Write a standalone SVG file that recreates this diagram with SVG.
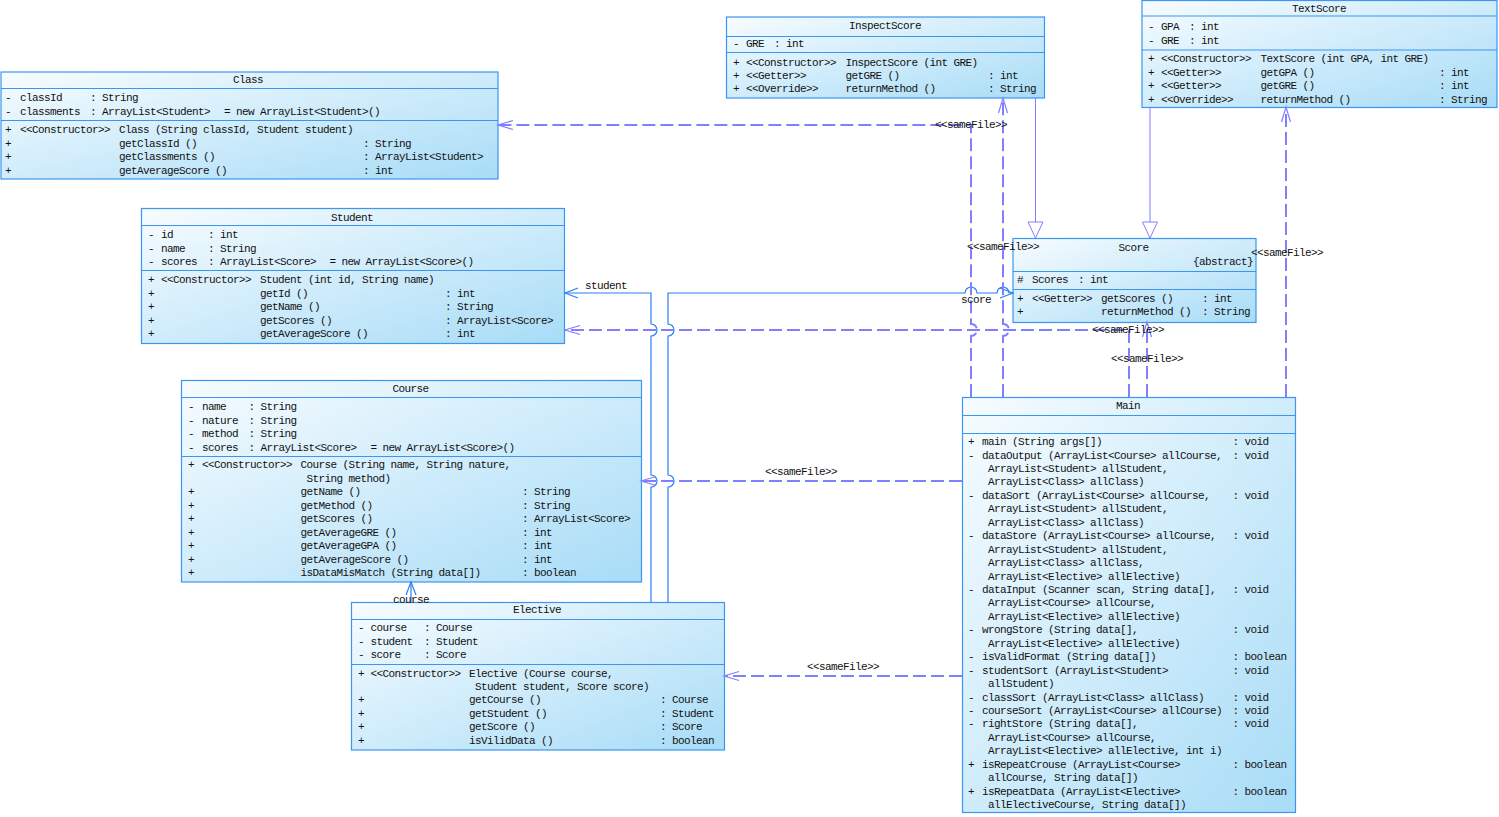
<svg xmlns="http://www.w3.org/2000/svg" width="1499" height="817" viewBox="0 0 1499 817">
<style>
.t{font-family:"Liberation Mono","DejaVu Sans Mono",monospace;font-size:11px;letter-spacing:-0.6px;fill:#111111}
.c{text-anchor:middle}
.box{fill:url(#g);stroke:#3a96f0;stroke-width:1.2}
.dv{stroke:#3a96f0;stroke-width:1.2}
.as{fill:none;stroke:#2a7ff5;stroke-width:1.2}
.dep{fill:none;stroke:#8080ff;stroke-width:2;stroke-dasharray:13 5}
.gen{fill:none;stroke:#8080ff;stroke-width:1}
</style>
<defs>
<linearGradient id="g" x1="0" y1="0" x2="1" y2="1">
<stop offset="0" stop-color="#f7fcff"/>
<stop offset="1" stop-color="#a8dcf7"/>
</linearGradient>
<marker id="aB" markerUnits="userSpaceOnUse" markerWidth="16" markerHeight="12" viewBox="0 0 16 12" refX="14" refY="6" orient="auto">
<path d="M1,1 L14,6 L1,11" fill="none" stroke="#2a7ff5" stroke-width="1.2"/>
</marker>
<marker id="aP" markerUnits="userSpaceOnUse" markerWidth="18" markerHeight="12" viewBox="0 0 18 12" refX="16" refY="6" orient="auto">
<path d="M1,1.5 L16,6 L1,10.5" fill="none" stroke="#8080ff" stroke-width="1.2"/>
</marker>
<marker id="tri" markerUnits="userSpaceOnUse" markerWidth="18" markerHeight="18" viewBox="0 0 18 18" refX="17" refY="9" orient="auto">
<path d="M1,1.5 L17,9 L1,16.5 Z" fill="#ffffff" stroke="#8080ff" stroke-width="1"/>
</marker>
</defs>
<rect x="0" y="0" width="1499" height="817" fill="#ffffff"/>

<g id="Class">
<rect class="box" x="1" y="72" width="497" height="107"/>
<line class="dv" x1="1" y1="88.5" x2="498" y2="88.5"/>
<line class="dv" x1="1" y1="120.5" x2="498" y2="120.5"/>
<text class="t c" x="248" y="83">Class</text>
<text class="t" x="5" y="101">-</text><text class="t" x="20" y="101">classId</text><text class="t" x="90" y="101">: String</text>
<text class="t" x="5" y="115">-</text><text class="t" x="20" y="115">classments</text><text class="t" x="90" y="115">: ArrayList&lt;Student&gt;</text><text class="t" x="224" y="115">= new ArrayList&lt;Student&gt;()</text>
<text class="t" x="5" y="133">+</text><text class="t" x="20" y="133">&lt;&lt;Constructor&gt;&gt;</text><text class="t" x="119" y="133">Class (String classId, Student student)</text>
<text class="t" x="5" y="146.5">+</text><text class="t" x="119" y="146.5">getClassId ()</text><text class="t" x="363" y="146.5">: String</text>
<text class="t" x="5" y="160">+</text><text class="t" x="119" y="160">getClassments ()</text><text class="t" x="363" y="160">: ArrayList&lt;Student&gt;</text>
<text class="t" x="5" y="173.5">+</text><text class="t" x="119" y="173.5">getAverageScore ()</text><text class="t" x="363" y="173.5">: int</text>
</g>

<g id="InspectScore">
<rect class="box" x="726.5" y="17" width="318" height="81"/>
<line class="dv" x1="726.5" y1="36.5" x2="1044.5" y2="36.5"/>
<line class="dv" x1="726.5" y1="52.5" x2="1044.5" y2="52.5"/>
<text class="t c" x="885" y="29">InspectScore</text>
<text class="t" x="733" y="47">-</text><text class="t" x="746" y="47">GRE</text><text class="t" x="774" y="47">: int</text>
<text class="t" x="733" y="65.5">+</text><text class="t" x="746" y="65.5">&lt;&lt;Constructor&gt;&gt;</text><text class="t" x="845.5" y="65.5">InspectScore (int GRE)</text>
<text class="t" x="733" y="78.5">+</text><text class="t" x="746" y="78.5">&lt;&lt;Getter&gt;&gt;</text><text class="t" x="845.5" y="78.5">getGRE ()</text><text class="t" x="988" y="78.5">: int</text>
<text class="t" x="733" y="92">+</text><text class="t" x="746" y="92">&lt;&lt;Override&gt;&gt;</text><text class="t" x="845.5" y="92">returnMethod ()</text><text class="t" x="988" y="92">: String</text>
</g>

<g id="TextScore">
<rect class="box" x="1142" y="0.5" width="355" height="107"/>
<line class="dv" x1="1142" y1="16" x2="1497" y2="16"/>
<line class="dv" x1="1142" y1="50" x2="1497" y2="50"/>
<text class="t c" x="1319" y="12">TextScore</text>
<text class="t" x="1148" y="30">-</text><text class="t" x="1161" y="30">GPA</text><text class="t" x="1189" y="30">: int</text>
<text class="t" x="1148" y="44">-</text><text class="t" x="1161" y="44">GRE</text><text class="t" x="1189" y="44">: int</text>
<text class="t" x="1148" y="62">+</text><text class="t" x="1161" y="62">&lt;&lt;Constructor&gt;&gt;</text><text class="t" x="1260.5" y="62">TextScore (int GPA, int GRE)</text>
<text class="t" x="1148" y="75.5">+</text><text class="t" x="1161" y="75.5">&lt;&lt;Getter&gt;&gt;</text><text class="t" x="1260.5" y="75.5">getGPA ()</text><text class="t" x="1439" y="75.5">: int</text>
<text class="t" x="1148" y="89">+</text><text class="t" x="1161" y="89">&lt;&lt;Getter&gt;&gt;</text><text class="t" x="1260.5" y="89">getGRE ()</text><text class="t" x="1439" y="89">: int</text>
<text class="t" x="1148" y="102.5">+</text><text class="t" x="1161" y="102.5">&lt;&lt;Override&gt;&gt;</text><text class="t" x="1260.5" y="102.5">returnMethod ()</text><text class="t" x="1439" y="102.5">: String</text>
</g>

<g id="Student">
<rect class="box" x="141.5" y="208.5" width="423" height="135"/>
<line class="dv" x1="141.5" y1="225.5" x2="564.5" y2="225.5"/>
<line class="dv" x1="141.5" y1="270.5" x2="564.5" y2="270.5"/>
<text class="t c" x="352" y="220.5">Student</text>
<text class="t" x="148" y="238">-</text><text class="t" x="161" y="238">id</text><text class="t" x="208" y="238">: int</text>
<text class="t" x="148" y="251.5">-</text><text class="t" x="161" y="251.5">name</text><text class="t" x="208" y="251.5">: String</text>
<text class="t" x="148" y="265">-</text><text class="t" x="161" y="265">scores</text><text class="t" x="208" y="265">: ArrayList&lt;Score&gt;</text><text class="t" x="329.5" y="265">= new ArrayList&lt;Score&gt;()</text>
<text class="t" x="148" y="283">+</text><text class="t" x="161" y="283">&lt;&lt;Constructor&gt;&gt;</text><text class="t" x="260" y="283">Student (int id, String name)</text>
<text class="t" x="148" y="296.5">+</text><text class="t" x="260" y="296.5">getId ()</text><text class="t" x="445" y="296.5">: int</text>
<text class="t" x="148" y="310">+</text><text class="t" x="260" y="310">getName ()</text><text class="t" x="445" y="310">: String</text>
<text class="t" x="148" y="323.5">+</text><text class="t" x="260" y="323.5">getScores ()</text><text class="t" x="445" y="323.5">: ArrayList&lt;Score&gt;</text>
<text class="t" x="148" y="337">+</text><text class="t" x="260" y="337">getAverageScore ()</text><text class="t" x="445" y="337">: int</text>
</g>

<g id="Score">
<rect class="box" x="1013" y="238.5" width="243" height="84"/>
<line class="dv" x1="1013" y1="271.5" x2="1256" y2="271.5"/>
<line class="dv" x1="1013" y1="289.5" x2="1256" y2="289.5"/>
<text class="t c" x="1133.5" y="250.5">Score</text>
<text class="t" x="1193" y="264.5">{abstract}</text>
<text class="t" x="1017" y="283">#</text><text class="t" x="1032" y="283">Scores</text><text class="t" x="1078" y="283">: int</text>
<text class="t" x="1017" y="301.5">+</text><text class="t" x="1032" y="301.5">&lt;&lt;Getter&gt;&gt;</text><text class="t" x="1101" y="301.5">getScores ()</text><text class="t" x="1202" y="301.5">: int</text>
<text class="t" x="1017" y="315">+</text><text class="t" x="1101" y="315">returnMethod ()</text><text class="t" x="1202" y="315">: String</text>
</g>

<g id="Course">
<rect class="box" x="181.5" y="380.5" width="460" height="201.5"/>
<line class="dv" x1="181.5" y1="397.5" x2="641.5" y2="397.5"/>
<line class="dv" x1="181.5" y1="456.5" x2="641.5" y2="456.5"/>
<text class="t c" x="410.5" y="392">Course</text>
<text class="t" x="188" y="410">-</text><text class="t" x="202" y="410">name</text><text class="t" x="248.5" y="410">: String</text>
<text class="t" x="188" y="423.5">-</text><text class="t" x="202" y="423.5">nature</text><text class="t" x="248.5" y="423.5">: String</text>
<text class="t" x="188" y="437">-</text><text class="t" x="202" y="437">method</text><text class="t" x="248.5" y="437">: String</text>
<text class="t" x="188" y="450.5">-</text><text class="t" x="202" y="450.5">scores</text><text class="t" x="248.5" y="450.5">: ArrayList&lt;Score&gt;</text><text class="t" x="370.5" y="450.5">= new ArrayList&lt;Score&gt;()</text>
<text class="t" x="188" y="468.3">+</text><text class="t" x="202" y="468.3">&lt;&lt;Constructor&gt;&gt;</text><text class="t" x="300.5" y="468.3">Course (String name, String nature,</text>
<text class="t" x="306.5" y="482">String method)</text>
<text class="t" x="188" y="495.3">+</text><text class="t" x="300.5" y="495.3">getName ()</text><text class="t" x="522" y="495.3">: String</text>
<text class="t" x="188" y="509">+</text><text class="t" x="300.5" y="509">getMethod ()</text><text class="t" x="522" y="509">: String</text>
<text class="t" x="188" y="522.3">+</text><text class="t" x="300.5" y="522.3">getScores ()</text><text class="t" x="522" y="522.3">: ArrayList&lt;Score&gt;</text>
<text class="t" x="188" y="536">+</text><text class="t" x="300.5" y="536">getAverageGRE ()</text><text class="t" x="522" y="536">: int</text>
<text class="t" x="188" y="549.3">+</text><text class="t" x="300.5" y="549.3">getAverageGPA ()</text><text class="t" x="522" y="549.3">: int</text>
<text class="t" x="188" y="562.5">+</text><text class="t" x="300.5" y="562.5">getAverageScore ()</text><text class="t" x="522" y="562.5">: int</text>
<text class="t" x="188" y="575.8">+</text><text class="t" x="300.5" y="575.8">isDataMisMatch (String data[])</text><text class="t" x="522" y="575.8">: boolean</text>
</g>

<g id="Elective">
<rect class="box" x="351.5" y="602.5" width="373" height="147.5"/>
<line class="dv" x1="351.5" y1="619.5" x2="724.5" y2="619.5"/>
<line class="dv" x1="351.5" y1="664.5" x2="724.5" y2="664.5"/>
<text class="t c" x="537" y="613">Elective</text>
<text class="t" x="358" y="631.3">-</text><text class="t" x="370.5" y="631.3">course</text><text class="t" x="424" y="631.3">: Course</text>
<text class="t" x="358" y="645">-</text><text class="t" x="370.5" y="645">student</text><text class="t" x="424" y="645">: Student</text>
<text class="t" x="358" y="658.3">-</text><text class="t" x="370.5" y="658.3">score</text><text class="t" x="424" y="658.3">: Score</text>
<text class="t" x="358" y="676.7">+</text><text class="t" x="370.5" y="676.7">&lt;&lt;Constructor&gt;&gt;</text><text class="t" x="469" y="676.7">Elective (Course course,</text>
<text class="t" x="475" y="690">Student student, Score score)</text>
<text class="t" x="358" y="703.3">+</text><text class="t" x="469" y="703.3">getCourse ()</text><text class="t" x="660" y="703.3">: Course</text>
<text class="t" x="358" y="717">+</text><text class="t" x="469" y="717">getStudent ()</text><text class="t" x="660" y="717">: Student</text>
<text class="t" x="358" y="730.3">+</text><text class="t" x="469" y="730.3">getScore ()</text><text class="t" x="660" y="730.3">: Score</text>
<text class="t" x="358" y="743.7">+</text><text class="t" x="469" y="743.7">isVilidData ()</text><text class="t" x="660" y="743.7">: boolean</text>
</g>

<g id="Main">
<rect class="box" x="962.5" y="397.5" width="333" height="415"/>
<line class="dv" x1="962.5" y1="415.5" x2="1295.5" y2="415.5"/>
<line class="dv" x1="962.5" y1="433.5" x2="1295.5" y2="433.5"/>
<text class="t c" x="1128" y="409">Main</text>
<text class="t" x="968" y="445">+</text><text class="t" x="982" y="445">main (String args[])</text><text class="t" x="1232.5" y="445">: void</text>
<text class="t" x="968" y="458.5">-</text><text class="t" x="982" y="458.5">dataOutput (ArrayList&lt;Course&gt; allCourse,</text><text class="t" x="1232.5" y="458.5">: void</text>
<text class="t" x="988" y="471.9">ArrayList&lt;Student&gt; allStudent,</text>
<text class="t" x="988" y="485.3">ArrayList&lt;Class&gt; allClass)</text>
<text class="t" x="968" y="498.8">-</text><text class="t" x="982" y="498.8">dataSort (ArrayList&lt;Course&gt; allCourse,</text><text class="t" x="1232.5" y="498.8">: void</text>
<text class="t" x="988" y="512.2">ArrayList&lt;Student&gt; allStudent,</text>
<text class="t" x="988" y="525.7">ArrayList&lt;Class&gt; allClass)</text>
<text class="t" x="968" y="539.1">-</text><text class="t" x="982" y="539.1">dataStore (ArrayList&lt;Course&gt; allCourse,</text><text class="t" x="1232.5" y="539.1">: void</text>
<text class="t" x="988" y="552.6">ArrayList&lt;Student&gt; allStudent,</text>
<text class="t" x="988" y="566">ArrayList&lt;Class&gt; allClass,</text>
<text class="t" x="988" y="579.5">ArrayList&lt;Elective&gt; allElective)</text>
<text class="t" x="968" y="593">-</text><text class="t" x="982" y="593">dataInput (Scanner scan, String data[],</text><text class="t" x="1232.5" y="593">: void</text>
<text class="t" x="988" y="606.4">ArrayList&lt;Course&gt; allCourse,</text>
<text class="t" x="988" y="619.8">ArrayList&lt;Elective&gt; allElective)</text>
<text class="t" x="968" y="633.3">-</text><text class="t" x="982" y="633.3">wrongStore (String data[],</text><text class="t" x="1232.5" y="633.3">: void</text>
<text class="t" x="988" y="646.7">ArrayList&lt;Elective&gt; allElective)</text>
<text class="t" x="968" y="660.2">-</text><text class="t" x="982" y="660.2">isValidFormat (String data[])</text><text class="t" x="1232.5" y="660.2">: boolean</text>
<text class="t" x="968" y="673.6">-</text><text class="t" x="982" y="673.6">studentSort (ArrayList&lt;Student&gt;</text><text class="t" x="1232.5" y="673.6">: void</text>
<text class="t" x="988" y="687.1">allStudent)</text>
<text class="t" x="968" y="700.5">-</text><text class="t" x="982" y="700.5">classSort (ArrayList&lt;Class&gt; allClass)</text><text class="t" x="1232.5" y="700.5">: void</text>
<text class="t" x="968" y="714">-</text><text class="t" x="982" y="714">courseSort (ArrayList&lt;Course&gt; allCourse)</text><text class="t" x="1232.5" y="714">: void</text>
<text class="t" x="968" y="727.4">-</text><text class="t" x="982" y="727.4">rightStore (String data[],</text><text class="t" x="1232.5" y="727.4">: void</text>
<text class="t" x="988" y="740.9">ArrayList&lt;Course&gt; allCourse,</text>
<text class="t" x="988" y="754.3">ArrayList&lt;Elective&gt; allElective, int i)</text>
<text class="t" x="968" y="767.8">+</text><text class="t" x="982" y="767.8">isRepeatCrouse (ArrayList&lt;Course&gt;</text><text class="t" x="1232.5" y="767.8">: boolean</text>
<text class="t" x="988" y="781.2">allCourse, String data[])</text>
<text class="t" x="968" y="794.7">+</text><text class="t" x="982" y="794.7">isRepeatData (ArrayList&lt;Elective&gt;</text><text class="t" x="1232.5" y="794.7">: boolean</text>
<text class="t" x="988" y="808.1">allElectiveCourse, String data[])</text>
</g>

<g id="connectors">
<path class="as" d="M651,602 V487 a6,6 0 0 0 0,-12 V336 a6,6 0 0 0 0,-12 V293 H565" marker-end="url(#aB)"/>
<path class="as" d="M668,602 V487 a6,6 0 0 0 0,-12 V336 a6,6 0 0 0 0,-12 V293 H965 a6,6 0 0 1 12,0 H997 a6,6 0 0 1 12,0 H1013" marker-end="url(#aB)"/>
<path class="as" d="M411,602 V582" marker-end="url(#aB)"/>
<path class="dep" d="M971,397 V336 a6,6 0 0 0 0,-12 V125 H498" marker-end="url(#aP)"/>
<path class="dep" d="M1003,397 V336 a6,6 0 0 0 0,-12 V98" marker-end="url(#aP)"/>
<path class="dep" d="M1286,397 V107" marker-end="url(#aP)"/>
<path class="dep" d="M1147,397 V322" marker-end="url(#aP)"/>
<path class="dep" d="M1129,397 V330 H565" marker-end="url(#aP)"/>
<path class="dep" d="M962,481 H641" marker-end="url(#aP)"/>
<path class="dep" d="M962,676 H724" marker-end="url(#aP)"/>
<path class="gen" d="M1035.5,98 V238" marker-end="url(#tri)"/>
<path class="gen" d="M1150,107 V238" marker-end="url(#tri)"/>
<text class="t" x="935" y="128">&lt;&lt;sameFile&gt;&gt;</text>
<text class="t" x="967" y="250">&lt;&lt;sameFile&gt;&gt;</text>
<text class="t" x="1251" y="256">&lt;&lt;sameFile&gt;&gt;</text>
<text class="t" x="1092" y="333">&lt;&lt;sameFile&gt;&gt;</text>
<text class="t" x="1111" y="362">&lt;&lt;sameFile&gt;&gt;</text>
<text class="t" x="765" y="475">&lt;&lt;sameFile&gt;&gt;</text>
<text class="t" x="807" y="670">&lt;&lt;sameFile&gt;&gt;</text>
<text class="t" x="585" y="289">student</text>
<text class="t" x="961" y="303">score</text>
<text class="t" x="393" y="603">course</text>
</g>
</svg>
